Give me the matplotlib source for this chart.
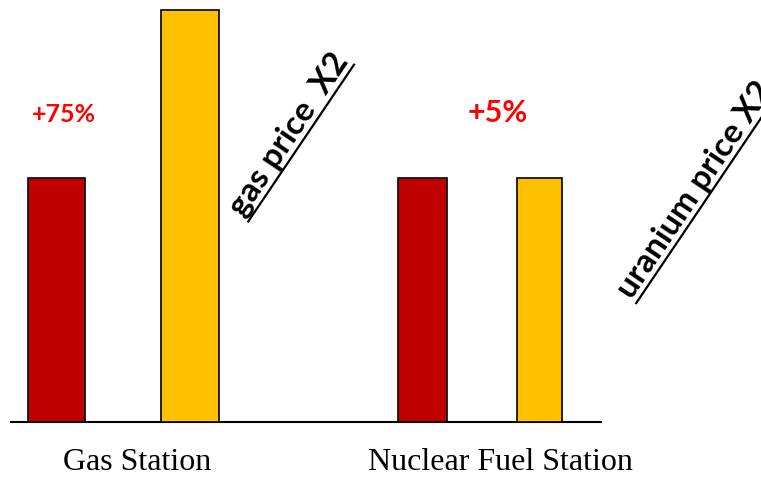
import numpy as np
import matplotlib
matplotlib.use("Agg")
import matplotlib.pyplot as plt
from matplotlib.lines import Line2D

# ---- data ----
categories = ["Gas Station", "Nuclear Fuel Station"]
before_values = [100, 100]
after_values = [169, 100]
change_labels = ["+75%", "+5%"]
price_notes = ["gas price  X2", "uranium price X2"]

# ---- layout (pixel-like data units along x) ----
red_x = [45.5, 411.5]
red_w = [57, 49]
yel_x = [179, 528.5]
yel_w = [58, 45]
tick_x = [126, 489]
change_pos = [(53, 126), (487, 126.5)]
change_size = [18, 22]
note_pos = [(286, 115.5), (692, 93)]
note_angle = 56
note_size = 24

RED = "#C00000"
YEL = "#FFC000"

W, H = 761, 478
fig = plt.figure(figsize=(W / 100, H / 100), dpi=100)
ax = fig.add_axes([11 / W, 56 / H, 590 / W, 422 / H])
ax.set_xlim(0, 590)
ax.set_ylim(0, 173)

ax.bar(red_x, before_values, width=red_w, color=RED, edgecolor="black", linewidth=1.2, zorder=3)
ax.bar(yel_x, after_values, width=yel_w, color=YEL, edgecolor="black", linewidth=1.2, zorder=3)

for s in ["top", "left", "right"]:
    ax.spines[s].set_visible(False)
ax.spines["bottom"].set_linewidth(1.5)
ax.set_yticks([])
ax.set_xticks(tick_x)
ax.set_xticklabels(categories, fontfamily="Liberation Serif", fontsize=23)
ax.tick_params(axis="x", length=0, pad=19)

for (x, y), lab, fs in zip(change_pos, change_labels, change_size):
    ax.text(x, y, lab, color="red", fontsize=fs, fontweight="bold",
            fontfamily="Lato", ha="center", va="center")

texts = []
for (x, y), note in zip(note_pos, price_notes):
    t = ax.text(x, y, note, color="black", fontsize=note_size, fontweight="bold",
                fontfamily="Lato", ha="center", va="baseline",
                rotation=note_angle, rotation_mode="anchor", clip_on=False)
    texts.append(t)

# underline each rotated note
fig.canvas.draw()
r = fig.canvas.get_renderer()
th = np.deg2rad(note_angle)
u = np.array([np.cos(th), np.sin(th)])
n = np.array([np.sin(th), -np.cos(th)])
for t in texts:
    tmp = ax.text(0, 0, t.get_text(), fontsize=note_size, fontweight="bold", fontfamily="Lato")
    L = tmp.get_window_extent(r).width
    tmp.remove()
    c = np.array(ax.transData.transform(t.get_position()))
    d = 5
    p0 = c - u * L / 2 + n * d
    p1 = c + u * L / 2 + n * d
    fp = fig.transFigure.inverted().transform(np.vstack([p0, p1]))
    fig.add_artist(Line2D(fp[:, 0], fp[:, 1], color="black", lw=1.6, transform=fig.transFigure))

fig.savefig("out.png", dpi=100)
